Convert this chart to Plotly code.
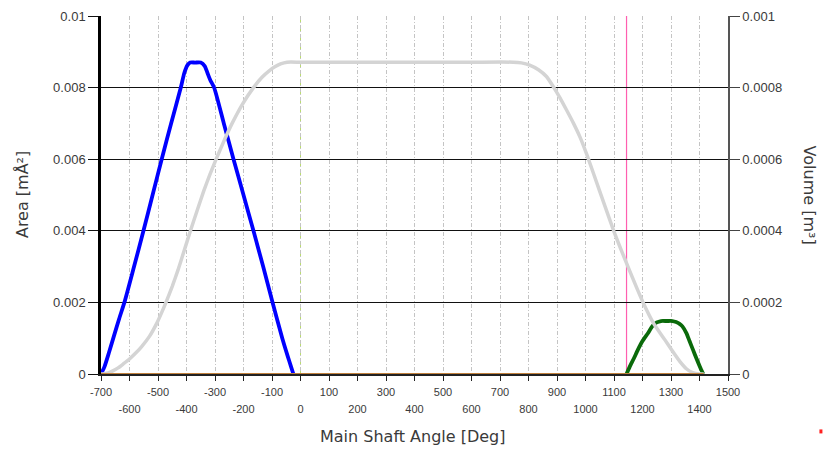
import plotly.graph_objects as go

# ---------------- data ----------------
X_RANGE = [-700, 1500]
AREA_RANGE = [0, 0.01]
VOL_RANGE = [0, 0.001]

x_ticks_row1 = [-700, -500, -300, -100, 100, 300, 500, 700, 900, 1100, 1300, 1500]
x_ticks_row2 = [-600, -400, -200, 0, 200, 400, 600, 800, 1000, 1200, 1400]
area_ticks = [0, 0.002, 0.004, 0.006, 0.008, 0.01]
area_tick_text = ["0", "0.002", "0.004", "0.006", "0.008", "0.01"]
vol_ticks = [0, 0.0002, 0.0004, 0.0006, 0.0008, 0.001]
vol_tick_text = ["0", "0.0002", "0.0004", "0.0006", "0.0008", "0.001"]

# blue area curve (left axis)
blue_angle = [-700, -688, -672, -655, -636, -616, -584, -551, -519, -487, -454, -420,
              -408, -397, -387, -370, -350, -336, -326, -316, -303, -269, -235, -200,
              -165, -131, -98, -64, -45, -33, -25]
blue_area = [0, 0.0002, 0.0006, 0.00105, 0.00155, 0.00205, 0.003, 0.004, 0.005, 0.006,
             0.007, 0.008, 0.0084, 0.00862, 0.0087, 0.0087, 0.0087, 0.0086, 0.0084,
             0.0082, 0.008, 0.007, 0.006, 0.005, 0.004, 0.003, 0.002, 0.001, 0.0005,
             0.0002, 0]

# gray volume curve (right axis), values in 1e-6 m^3
gray_angle = [-700, -693, -675, -660, -640, -622, -600, -580, -558, -530, -504, -488,
              -472, -450, -430, -410, -387, -362, -340, -318, -296, -268, -240, -205,
              -165, -135, -110, -90, -70, -47, 0, 200, 400, 600, 746, 775, 804, 835,
              863, 889, 910, 933, 958, 980, 1006, 1050, 1099, 1150, 1202, 1240, 1278,
              1305, 1330, 1355, 1376, 1400, 1415]
gray_volume_micro = [0, 0, 3, 8, 17, 28, 42, 57, 76, 105, 142, 170, 200, 245, 290, 340,
                     398, 458, 510, 557, 600, 652, 700, 752, 800, 829, 847, 858, 866, 871,
                     871, 871, 871, 871, 871, 869, 863, 850, 831, 800, 772, 738, 700, 663,
                     610, 510, 400, 298, 200, 140, 96, 64, 36, 14, 4, 0, 0]

# green area curve (left axis)
green_angle = [1144, 1155, 1170, 1184, 1200, 1219, 1235, 1250, 1265, 1285, 1305, 1318,
               1330, 1340, 1354, 1365, 1377, 1389, 1401, 1413]
green_area = [0, 0.0002, 0.00044, 0.00068, 0.00092, 0.00114, 0.00134, 0.00144, 0.00148,
              0.00148, 0.00148, 0.00145, 0.0014, 0.00133, 0.00114, 0.00092, 0.00068,
              0.00044, 0.00021, 0]

# brown baseline (left axis)
brown_angle = [-700, 1415]
brown_area = [0, 0]

marker_green_angle = 0
marker_pink_angle = 1144

# ---------------- figure ----------------
W, H = 823, 449
L, R, T, B = 101, 94.5, 16, 74.5
PW, PH = W - L - R, H - T - B

TXT = "#3a3a3a"

gray_volume = [v * 1e-6 for v in gray_volume_micro]

fig = go.Figure()
fig.add_trace(go.Scatter(x=brown_angle, y=brown_area, mode="lines", xaxis="x2", yaxis="y",
                         line=dict(color="#c0803c", width=2.2), hoverinfo="skip", showlegend=False))
fig.add_trace(go.Scatter(x=gray_angle, y=gray_volume, mode="lines", xaxis="x", yaxis="y2",
                         line=dict(color="#d4d4d4", width=3.5, shape="spline", smoothing=0.5),
                         showlegend=False))
fig.add_trace(go.Scatter(x=blue_angle, y=blue_area, mode="lines", xaxis="x", yaxis="y",
                         line=dict(color="#0000ff", width=3.8, shape="spline", smoothing=0.6),
                         showlegend=False))
fig.add_trace(go.Scatter(x=green_angle, y=green_area, mode="lines", xaxis="x", yaxis="y",
                         line=dict(color="#0a6a0a", width=3.8, shape="spline", smoothing=0.6),
                         showlegend=False))

tickfont_x = dict(family="Liberation Sans, Arial, sans-serif", size=11, color=TXT)
tickfont_y = dict(family="Liberation Sans, Arial, sans-serif", size=13, color=TXT)

fig.update_layout(
    width=W, height=H,
    margin=dict(l=L, r=R, t=T, b=B, autoexpand=False),
    paper_bgcolor="white", plot_bgcolor="white",
    showlegend=False,
    xaxis=dict(
        range=X_RANGE, tickmode="array",
        tickvals=x_ticks_row1 + x_ticks_row2,
        ticktext=[str(v) for v in x_ticks_row1] + [""] * len(x_ticks_row2),
        ticks="outside", ticklen=5, tickcolor="#222", tickwidth=1,
        showgrid=True, gridcolor="#c4c4c4", griddash="4px,2px,1px,2px", gridwidth=1,
        showline=True, linecolor="#222", linewidth=1.5, layer="below traces",
        zeroline=False, tickfont=tickfont_x, anchor="y", ticklabelstandoff=2,
    ),
    xaxis2=dict(
        range=X_RANGE, overlaying="x", anchor="y", side="bottom",
        tickmode="array", tickvals=x_ticks_row2,
        ticktext=[str(v) for v in x_ticks_row2],
        ticks="", showgrid=False, showline=False, zeroline=False,
        tickfont=tickfont_x, ticklabelstandoff=27,
    ),
    yaxis=dict(
        range=AREA_RANGE, tickmode="array", tickvals=area_ticks, ticktext=area_tick_text,
        ticks="outside", ticklen=10, tickcolor="#111", tickwidth=1,
        showgrid=True, gridcolor="#111", gridwidth=1,
        showline=True, linecolor="#000", linewidth=2.5,
        zeroline=False, tickfont=tickfont_y,
    ),
    yaxis2=dict(
        range=VOL_RANGE, overlaying="y", side="right", anchor="x",
        tickmode="array", tickvals=vol_ticks, ticktext=vol_tick_text,
        ticks="outside", ticklen=10, tickcolor="#444", tickwidth=1,
        showgrid=False, showline=True, linecolor="#555", linewidth=1.5,
        zeroline=False, tickfont=tickfont_y,
    ),
    shapes=[
        dict(type="line", xref="x", yref="paper", x0=marker_green_angle, x1=marker_green_angle,
             y0=0, y1=1, line=dict(color="#b9dc6e", width=1, dash="4px,2px,1px,2px"), layer="below"),
        dict(type="line", xref="x", yref="paper", x0=marker_pink_angle, x1=marker_pink_angle,
             y0=0, y1=1, line=dict(color="#ff5fb0", width=1.2), layer="below"),
        dict(type="rect", xref="paper", yref="paper",
             x0=(820 - L) / PW, x1=(823 - L) / PW, y0=(H - B - 434) / PH, y1=(H - B - 430) / PH,
             line=dict(width=0), fillcolor="#ff2020"),
    ],
    annotations=[
        dict(text="Main Shaft Angle [Deg]", xref="paper", yref="paper",
             x=(413 - L) / PW, y=(H - B - 437) / PH, xanchor="center", yanchor="middle",
             showarrow=False, font=dict(family="DejaVu Sans, Verdana, sans-serif", size=16, color=TXT)),
        dict(text="Area [mÅ²]", xref="paper", yref="paper",
             x=(22 - L) / PW, y=0.5, xanchor="center", yanchor="middle", textangle=-90,
             showarrow=False, font=dict(family="DejaVu Sans, Verdana, sans-serif", size=16, color=TXT)),
        dict(text="Volume [m³]", xref="paper", yref="paper",
             x=(811 - L) / PW, y=0.5, xanchor="center", yanchor="middle", textangle=90,
             showarrow=False, font=dict(family="DejaVu Sans, Verdana, sans-serif", size=16, color=TXT)),
    ],
)

fig.write_html("out.html")
